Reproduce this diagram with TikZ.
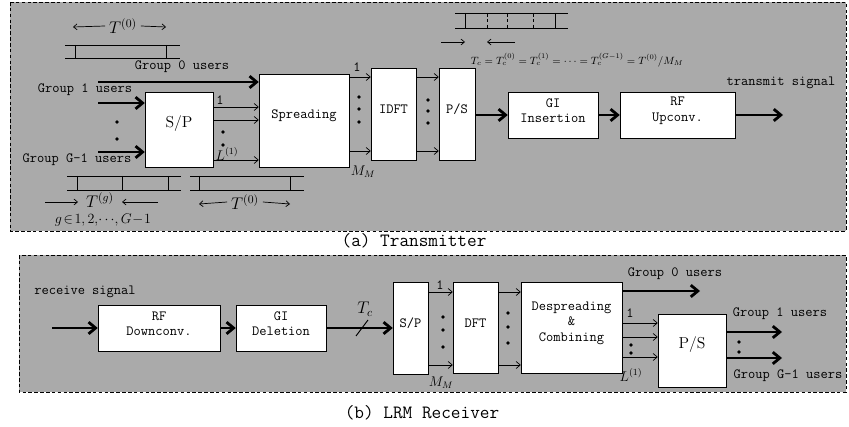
\documentclass[tikz,border=0pt]{standalone}
\usepackage{amsmath, amssymb}
\usepackage{fontspec}
\usepackage{xcolor}
\usetikzlibrary{calc, fit, arrows.meta}
\definecolor{panelgray}{RGB}{170,170,170}

\begin{document}
\begin{tikzpicture}[x=0.03cm, y=-0.03cm, font=\ttfamily\fontsize{12}{13}\selectfont,
    box/.style={draw, fill=white, inner sep=0pt, align=center},
    bigtxt/.style={font=\rmfamily\fontsize{13.5}{15}\selectfont},
    bus/.style={-{Straight Barb[length=6pt, width=10pt]}, line width=2.4pt},
    wire/.style={-{Straight Barb[length=3.5pt, width=6pt]}, line width=0.6pt},
    dim/.style={-{Straight Barb[length=3pt, width=5pt]}, line width=0.6pt},
    panel/.style={densely dashed, line width=0.8pt, fill=panelgray}]
    \useasboundingbox (0,0) rectangle (849,427);

    % 1. Hai khung nen
    \draw[panel] (10,2) rectangle (846,231);
    \draw[panel] (19,255) rectangle (846,392);
    \node (capa) at (414,241) {\fontsize{16}{18}\selectfont (a) Transmitter};
    \node (capb) at (422,413) {\fontsize{16}{18}\selectfont (b) LRM Receiver};

    % 2. Transmitter: cac khoi
    \node[box, bigtxt, fit={(145,92) (213,167)}] (sp) {S/P};
    \node[box, fit={(259,74) (349,167)}] (spr) {Spreading};
    \node[box, fit={(371,68) (416,160)}] (idft) {IDFT};
    \node[box, fit={(439,68) (475,160)}] (ps) {P/S};
    \node[box, fit={(508,92) (598,138)}] (gi) {GI\\Insertion};
    \node[box, fit={(620,92) (735,138)}] (rfu) {RF\\Upconv.};

    % 3. Transmitter: dau vao
    \coordinate (g0in) at (98,82);
    \coordinate (g1in) at (98,103);
    \coordinate (gGin) at (98,152);
    \draw[bus] (g0in) -- (g0in -| spr.west);
    \draw[bus] (g1in) -- (g1in -| sp.west);
    \draw[bus] (gGin) -- (gGin -| sp.west);
    \node (g0txt) at (182,67) {Group 0 users};
    \node (g1txt) at (85,90) {Group 1 users};
    \node (gGtxt) at (77,160) {Group G-1 users};
    \fill (117,122) circle (1.6pt) (117,139) circle (1.6pt);

    % 4. Transmitter: cac nhanh song song
    \foreach \y in {107,120,160}
        \draw[wire] (sp.east |- 0,\y) -- (spr.west |- 0,\y);
    \node (one1) at (220,100) {1};
    \fill (223,132) circle (1.6pt) (223,145) circle (1.6pt);
    \node (l1) at (227,154) {\large $L^{(1)}$};
    \foreach \y in {77,151} {
        \draw[wire] (spr.east |- 0,\y) -- (idft.west |- 0,\y);
        \draw[wire] (idft.east |- 0,\y) -- (ps.west |- 0,\y);
    }
    \node (one2) at (357,67) {1};
    \node (mm1) at (363,172) {\large $M_M$};
    \foreach \y in {97,109,122}
        \fill (359,\y) circle (1.6pt);
    \foreach \y in {100,111,123}
        \fill (428,\y) circle (1.6pt);

    % 5. Transmitter: dau ra
    \draw[bus] (ps.east |- gi.west) -- (gi.west);
    \draw[bus] (gi) -- (rfu);
    \coordinate (txout) at (783,115);
    \draw[bus] (rfu) -- (txout);
    \node (txtxt) at (781,83) {transmit signal};

    % 6. Truc thoi gian
    \draw[line width=0.8pt] (65,45) -- (180,45) (65,58) -- (180,58)
        (75,45) -- (75,58) (166,45) -- (166,58);
    \node (tt0) at (123,26) {\Large $T^{(0)}$};
    \draw[dim] (tt0.west) -- (73,27);
    \draw[dim] (tt0.east) -- (166,27);

    \draw[line width=0.8pt] (67,176) -- (181,176) (67,190) -- (181,190);
    \foreach \x in {77,122,168}
        \draw[line width=0.8pt] (\x,176) -- (\x,190);
    \draw[line width=0.8pt] (190,176) -- (304,176) (190,190) -- (304,190)
        (199,176) -- (199,190) (290,176) -- (290,190);
    \node[inner sep=0pt] (ttg) at (100,200) {\Large $T^{(g)}$};
    \draw[dim] (45,202) -- (78,202);
    \draw[dim] (158,202) -- (122,202);
    \node[inner sep=0pt] (grng) at (103,220) {\large $g\!\in\!1,2,\!\cdots\!,G\!-\!1$};
    \node (tt0b) at (245,202) {\Large $T^{(0)}$};
    \draw[dim] (tt0b.west) -- (199,204);
    \draw[dim] (tt0b.east) -- (290,204);

    \draw[line width=0.8pt] (455,13) -- (568,13) (455,28) -- (568,28)
        (465,13) -- (465,28) (555,13) -- (555,28);
    \foreach \x in {487,507,533}
        \draw[densely dashed, line width=0.6pt] (\x,13) -- (\x,28);
    \draw[dim] (441,42) -- (465,42);
    \draw[dim] (515,42) -- (487,42);
    \node (tcform) at (577,60)
        {\small $T_c=T_c^{(0)}=T_c^{(1)}=\cdots=T_c^{(G-1)}=T^{(0)}/M_M$};

    % 7. Receiver: cac khoi
    \node[box, fit={(98,305) (220,351)}] (rfd) {RF\\Downconv.};
    \node[box, fit={(236,305) (326,351)}] (gid) {GI\\Deletion};
    \node[box, fit={(393,282) (428,374)}] (rsp) {S/P};
    \node[box, fit={(453,282) (498,373)}] (dft) {DFT};
    \node[box, fit={(521,282) (622,373)}] (desp) {Despreading\\\&\\Combining};
    \node[box, bigtxt, fit={(658,314) (726,387)}] (rps) {P/S};

    % 8. Receiver: noi cac khoi
    \coordinate (rxin) at (52,328);
    \node (rxtxt) at (85,292) {receive signal};
    \draw[bus] (rxin) -- (rfd);
    \draw[bus] (rfd) -- (gid);
    \draw[bus] (gid) -- (rsp);
    \draw[line width=0.8pt] (356,336) -- (368,320);
    \node (tc) at (365,309) {\Large $T_c$};
    \foreach \y in {292,365} {
        \draw[wire] (rsp.east |- 0,\y) -- (dft.west |- 0,\y);
        \draw[wire] (dft.east |- 0,\y) -- (desp.west |- 0,\y);
    }
    \node (one3) at (440,285) {1};
    \node (mm2) at (441,383) {\large $M_M$};
    \foreach \y in {317,330,347}
        \fill (443,\y) circle (1.6pt);
    \foreach \y in {313,327,343}
        \fill (508,\y) circle (1.6pt);

    % 9. Receiver: dau ra
    \coordinate (rxg0) at (700,291);
    \draw[bus] (desp.east |- rxg0) -- (rxg0);
    \node (rg0txt) at (675,274) {Group 0 users};
    \foreach \y in {323,337,357}
        \draw[wire] (desp.east |- 0,\y) -- (rps.west |- 0,\y);
    \node (one4) at (630,313) {1};
    \fill (631,345) circle (1.6pt) (631,353) circle (1.6pt);
    \node (l2) at (631,375) {\large $L^{(1)}$};
    \coordinate (rxg1) at (782,332);
    \coordinate (rxgG) at (782,358);
    \draw[bus] (rps.east |- rxg1) -- (rxg1);
    \draw[bus] (rps.east |- rxgG) -- (rxgG);
    \fill (739,342) circle (1.6pt) (739,352) circle (1.6pt);
    \node (rg1txt) at (780,314) {Group 1 users};
    \node (rgGtxt) at (788,376) {Group G-1 users};

\end{tikzpicture}
\end{document}
